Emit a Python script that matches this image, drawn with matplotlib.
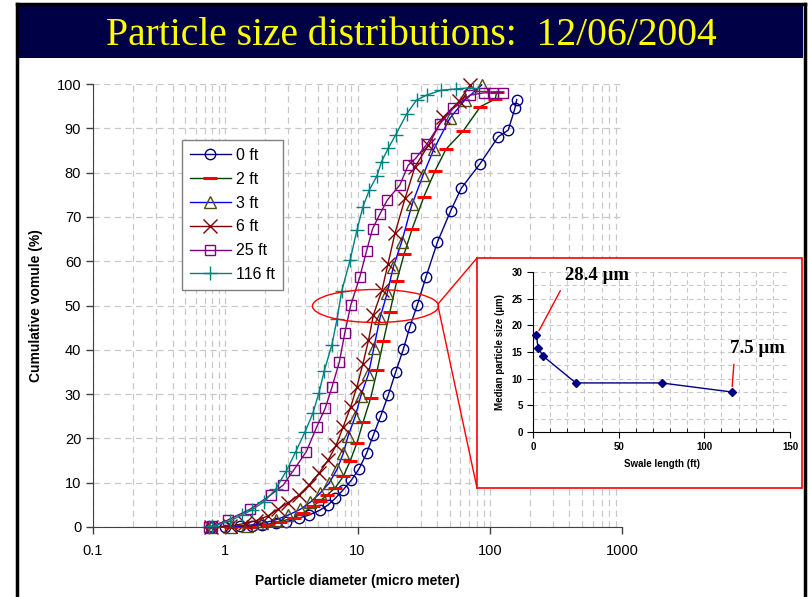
import matplotlib
matplotlib.use("Agg")
import matplotlib.pyplot as plt
from matplotlib.patches import Rectangle, Ellipse
from matplotlib.lines import Line2D
from matplotlib.ticker import FixedLocator, MultipleLocator

plt.rcParams['font.family'] = ['Liberation Sans', 'DejaVu Sans']

# cumulative volume curves (diameter in um, volume in %)
d_0ft = [0.78, 1.0, 1.3, 1.6, 1.9, 2.4, 2.9, 3.6, 4.3, 5.2, 6.0, 6.8, 7.8, 9.0, 10.3, 11.7,
         13.2, 15.0, 17.1, 19.5, 22.2, 24.9, 28.3, 33.0, 40.2, 50.7, 61, 84, 116, 138, 155, 160]
v_0ft = [0, 0.1, 0.2, 0.3, 0.5, 0.8, 1.2, 2.0, 2.7, 3.8, 5.0, 6.5, 8.4, 10.6, 13.2, 16.6,
         20.8, 25.1, 29.8, 35.1, 40.1, 45.2, 50.1, 56.5, 64.3, 71.4, 76.5, 81.9, 88.1, 89.6, 94.5, 96.5]

d_2ft = [0.78, 1.1, 1.5, 2.1, 2.6, 3.3, 3.9, 4.6, 5.2, 5.9, 6.8, 7.8, 8.8, 9.9, 11.0, 12.6,
         14.1, 15.7, 17.6, 19.8, 22.5, 25.9, 31.8, 38.6, 46.7, 63, 85, 110, 113]
v_2ft = [0, 0.1, 0.1, 0.5, 1.2, 2.1, 3.2, 4.7, 5.9, 7.2, 8.9, 11.4, 14.9, 19.0, 23.6, 29.2,
         35.4, 42.0, 48.6, 55.5, 61.6, 67.3, 74.6, 80.4, 85.3, 89.4, 94.9, 96.6, 98.3]

d_3ft = [0.78, 1.1, 1.45, 1.9, 2.4, 3.0, 3.7, 4.4, 5.2, 6.1, 7.0, 7.8, 8.5, 9.6, 10.6, 12.1,
         13.3, 14.8, 16.8, 18.7, 21.6, 25.9, 31.4, 37.8, 50, 65, 87]
v_3ft = [0, 0.1, 0.3, 0.8, 1.6, 2.7, 4.0, 5.6, 7.6, 9.9, 13.0, 16.6, 20.6, 24.9, 29.6, 34.5,
         40.5, 47.2, 52.9, 58.8, 64.4, 72.9, 79.5, 85.3, 92.3, 96.4, 99.8]

d_6ft = [0.78, 1.09, 1.4, 1.7, 2.1, 2.5, 3.0, 3.6, 4.3, 5.1, 6.0, 6.9, 7.8, 8.9, 9.9, 11.0,
         12.1, 13.2, 15.3, 17.0, 19.2, 22.9, 27.2, 34.4, 44.5, 59, 71]
v_6ft = [0, 0.2, 0.8, 1.4, 2.5, 4.0, 5.5, 7.2, 9.5, 12.1, 15.1, 18.5, 22.6, 27.2, 31.7, 36.9,
         42.1, 47.9, 53.4, 59.4, 66.3, 74.2, 81.3, 86.2, 92.5, 96.2, 99.8]

d_25ft = [0.75, 0.8, 1.05, 1.54, 2.2, 2.75, 3.3, 4.1, 4.9, 5.7, 6.4, 7.3, 8.0, 8.9, 10.4, 11.7,
          13.0, 14.8, 16.8, 20.9, 24.2, 27.5, 33.6, 42, 53, 71, 90, 105, 125]
v_25ft = [0, 0.2, 1.6, 4.0, 7.2, 9.5, 12.9, 17.0, 22.5, 26.8, 31.5, 37.3, 43.7, 50.1, 56.4, 62.3,
          67.3, 70.7, 73.8, 77.2, 81.7, 83.2, 86.5, 91.0, 94.5, 97.5, 98.0, 98.0, 98.0]

d_116ft = [0.75, 0.8, 1.09, 1.33, 1.58, 1.96, 2.4, 2.9, 3.4, 4.0, 4.6, 5.1, 5.6, 6.4, 7.0, 7.6,
           8.8, 9.9, 11.0, 12.3, 14.0, 15.2, 17.1, 19.5, 23.5, 28, 33.4, 43, 56, 75]
v_116ft = [0, 0.2, 1.4, 2.7, 3.8, 5.7, 8.5, 12.7, 16.9, 21.4, 25.7, 30.2, 35.2, 41.1, 46.9, 53.3,
           60.3, 67.0, 72.3, 76.1, 79.2, 82.5, 85.5, 88.6, 93.2, 96.4, 97.5, 98.6, 98.9, 99.2]

# inset: median particle size against swale length
swale_ft = [2, 3, 6, 25, 75, 116]
median_um = [18.1, 15.7, 14.2, 9.2, 9.2, 7.5]

W, H = 809, 597
fig = plt.figure(figsize=(W / 100, H / 100), dpi=100)


def fx(px):
    return px / W


def fy(py):
    return 1 - py / H


# slide frame and title bar
fig.patches.append(Rectangle((fx(18), fy(58)), fx(785), 55 / H, transform=fig.transFigure,
                             facecolor='#000046', edgecolor='none', zorder=0))
fig.lines.append(Line2D([fx(16.5), fx(16.5)], [0, fy(3.5)], transform=fig.transFigure, color='black', lw=2.5))
fig.lines.append(Line2D([fx(804.5), fx(804.5)], [0, fy(3.5)], transform=fig.transFigure, color='black', lw=2.5))
fig.lines.append(Line2D([fx(16.5), fx(804.5)], [fy(3.5), fy(3.5)], transform=fig.transFigure, color='black', lw=2.5))
fig.text(fx(411), fy(45), 'Particle size distributions:  12/06/2004', color='#ffff00',
         family='Liberation Serif', fontsize=28.5, ha='center', va='baseline')

ax = fig.add_axes([fx(93), fy(527), 529 / W, 443 / H])
ax.set_xscale('log')
ax.set_xlim(0.1, 1000)
ax.set_ylim(0, 100)

grid_kw = dict(color='#c8c8c8', linestyle=(0, (5, 3.5)), lw=0.9)
ax.grid(True, which='both', axis='x', **grid_kw)
ax.grid(True, which='major', axis='y', **grid_kw)
ax.set_axisbelow(True)

ax.plot(d_0ft, v_0ft, color='#000080', lw=1, marker='o', ms=7.5, mfc='none', mec='#000080',
        mew=1, label='0 ft', clip_on=False)
ax.plot(d_2ft, v_2ft, color='#004000', lw=1, marker='_', ms=10, mec='#ff0000', mew=2.2,
        label='2 ft', clip_on=False)
ax.plot(d_3ft, v_3ft, color='#0000ff', lw=1, marker='^', ms=8, mfc='none', mec='#4d4d14',
        mew=1, label='3 ft', clip_on=False)
ax.plot(d_6ft, v_6ft, color='#800000', lw=1, marker='x', ms=9.5, mec='#800000', mew=1,
        label='6 ft', clip_on=False)
ax.plot(d_25ft, v_25ft, color='#800080', lw=1, marker='s', ms=7.5, mfc='none', mec='#800080',
        mew=1, label='25 ft', clip_on=False)
ax.plot(d_116ft, v_116ft, color='#008080', lw=1, marker='+', ms=10, mec='#008080', mew=1,
        label='116 ft', clip_on=False)

ax.xaxis.set_major_locator(FixedLocator([0.1, 1, 10, 100, 1000]))
ax.set_xticklabels(['0.1', '1', '10', '100', '1000'])
ax.set_yticks(range(0, 101, 10))
ax.tick_params(axis='both', which='major', direction='out', length=5, width=1,
               labelsize=10.5, color='#404040')
ax.tick_params(axis='x', which='major', pad=7)
ax.tick_params(axis='x', which='minor', length=0)
for s in ['top', 'right']:
    ax.spines[s].set_visible(False)
for s in ['left', 'bottom']:
    ax.spines[s].set_color('#404040')
ax.set_xlabel('Particle diameter (micro meter)', fontsize=10, fontweight='bold', labelpad=12)
ax.set_ylabel('Cumulative vomule (%)', fontsize=10, fontweight='bold', labelpad=10)

leg = ax.legend(loc='upper left', bbox_to_anchor=((181.7 - 93) / 529, (527 - 140) / 443),
                borderaxespad=0, fontsize=11.5, fancybox=False, framealpha=1,
                edgecolor='#808080', handlelength=2.6, labelspacing=0.55, borderpad=0.5,
                handletextpad=0.3)
leg.get_frame().set_linewidth(1)

# zoom-out marks: ellipse round the medians, lines to the inset box
fig.patches.append(Ellipse((fx(375.5), fy(306)), 126 / W, 33 / H, transform=fig.transFigure,
                           facecolor='none', edgecolor='#ff0000', lw=1, zorder=5))
fig.lines.append(Line2D([fx(438), fx(477)], [fy(304), fy(258)], transform=fig.transFigure,
                        color='#ff0000', lw=1, zorder=5))
fig.lines.append(Line2D([fx(438), fx(477)], [fy(306), fy(488)], transform=fig.transFigure,
                        color='#ff0000', lw=1, zorder=5))
fig.patches.append(Rectangle((fx(477), fy(488)), 325 / W, 230 / H, transform=fig.transFigure,
                             facecolor='white', edgecolor='#ff0000', lw=1.2, zorder=6))

ax_in = fig.add_axes([fx(533), fy(432), 257 / W, 160 / H], zorder=7)
ax_in.set_facecolor('white')
ax_in.set_xlim(0, 150)
ax_in.set_ylim(0, 30)
ax_in.xaxis.set_major_locator(MultipleLocator(50))
ax_in.xaxis.set_minor_locator(MultipleLocator(10))
ax_in.yaxis.set_major_locator(MultipleLocator(5))
ax_in.yaxis.set_minor_locator(MultipleLocator(2.5))
ax_in.grid(True, which='both', color='#c8c8c8', linestyle=(0, (4, 3)), lw=0.8)
ax_in.set_axisbelow(True)
ax_in.plot(swale_ft, median_um, color='#000080', lw=1, marker='D', ms=4, mfc='#000080',
           mec='#000080', clip_on=False)
for s in ['top', 'right']:
    ax_in.spines[s].set_visible(False)
ax_in.tick_params(axis='both', which='major', direction='out', length=4, labelsize=7)
ax_in.tick_params(axis='x', which='minor', direction='in', length=3)
ax_in.tick_params(axis='y', which='minor', length=0)
for lab in ax_in.get_xticklabels() + ax_in.get_yticklabels():
    lab.set_fontweight('bold')
ax_in.set_xlabel('Swale length (ft)', fontsize=7, fontweight='bold', labelpad=5)
ax_in.set_ylabel('Median particle size (µm)', fontsize=7, fontweight='bold', labelpad=5)

ax_in.annotate('28.4 µm', xy=(swale_ft[0], median_um[0]), xytext=(18.5, 29.3),
               fontsize=13.5, fontweight='bold', family='Liberation Serif', va='center',
               ha='left', annotation_clip=False,
               arrowprops=dict(arrowstyle='-', color='#ff0000', lw=1, relpos=(0, 0.1),
                               shrinkA=3, shrinkB=4))
ax_in.annotate('7.5 µm', xy=(swale_ft[-1], median_um[-1]), xytext=(115, 15.6),
               fontsize=13.5, fontweight='bold', family='Liberation Serif', va='center',
               ha='left', annotation_clip=False,
               arrowprops=dict(arrowstyle='-', color='#ff0000', lw=1, relpos=(0.08, 0),
                               shrinkA=3, shrinkB=4))

fig.savefig('out.png', dpi=100, facecolor='white')
